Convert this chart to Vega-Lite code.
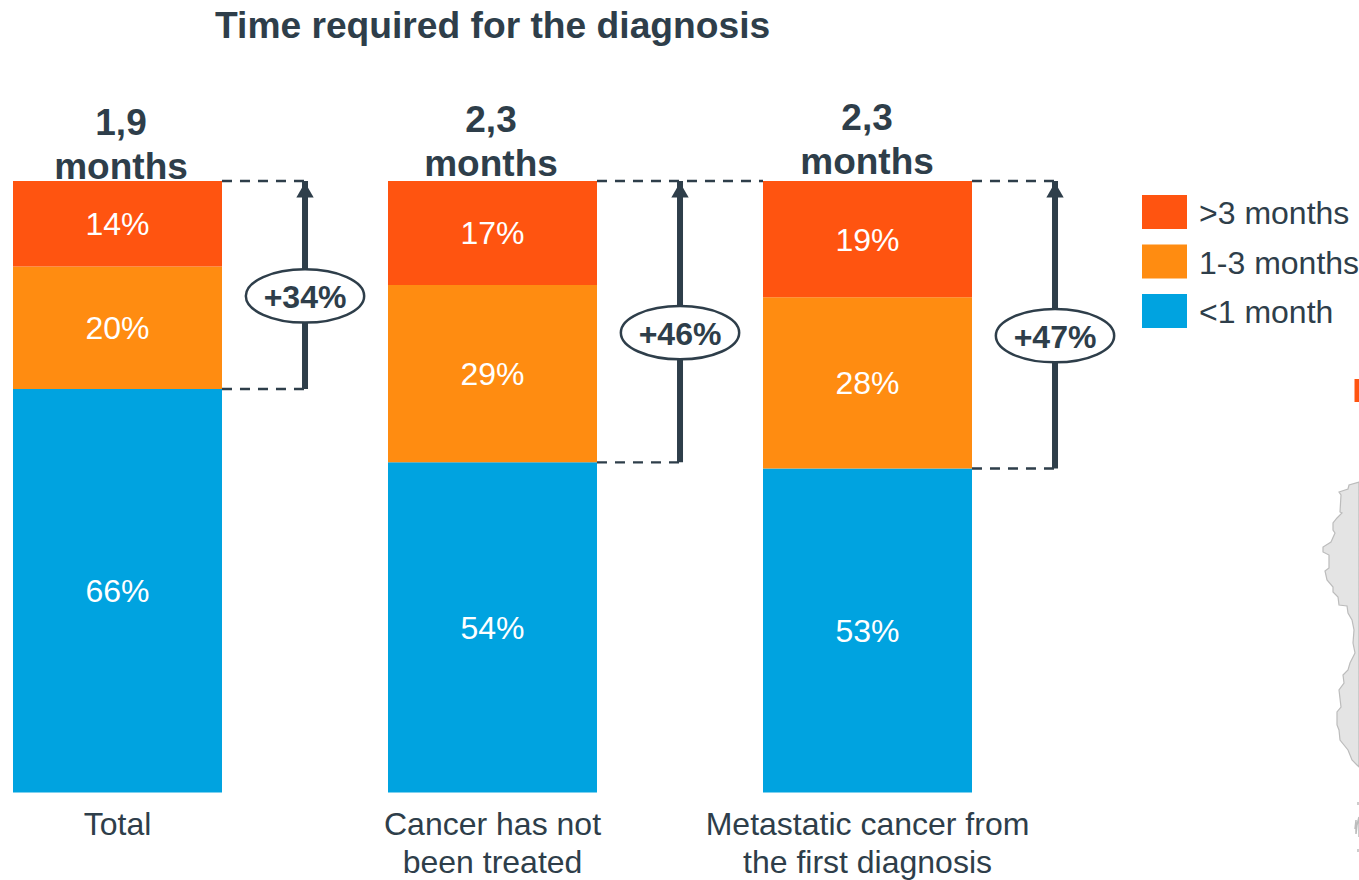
{
  "$schema": "https://vega.github.io/schema/vega-lite/v6.json",
  "width": 1359,
  "height": 880,
  "padding": 0,
  "autosize": {"type": "none"},
  "background": "white",
  "title": {
    "text": "Time required for the diagnosis",
    "anchor": "start",
    "frame": "group",
    "dx": 215,
    "offset": -46,
    "font": "Liberation Sans",
    "fontSize": 37.2,
    "fontWeight": "bold",
    "color": "#2e3e4a"
  },
  "config": {"view": {"stroke": null}, "font": "Liberation Sans"},
  "datasets": {
    "segments": [
      {"cat": "Total", "duration": "<1 month", "rank": 1, "share": 66},
      {"cat": "Total", "duration": "1-3 months", "rank": 2, "share": 20},
      {"cat": "Total", "duration": ">3 months", "rank": 3, "share": 14},
      {"cat": "Cancer has not been treated", "duration": "<1 month", "rank": 1, "share": 54},
      {"cat": "Cancer has not been treated", "duration": "1-3 months", "rank": 2, "share": 29},
      {"cat": "Cancer has not been treated", "duration": ">3 months", "rank": 3, "share": 17},
      {"cat": "Metastatic cancer from the first diagnosis", "duration": "<1 month", "rank": 1, "share": 53},
      {"cat": "Metastatic cancer from the first diagnosis", "duration": "1-3 months", "rank": 2, "share": 28},
      {"cat": "Metastatic cancer from the first diagnosis", "duration": ">3 months", "rank": 3, "share": 19}
    ],
    "gaps": [
      {"cat": "Total", "avg": "1,9", "top": 100, "base": 66, "gain": "+34%"},
      {"cat": "Cancer has not been treated", "avg": "2,3", "top": 100, "base": 54, "gain": "+46%"},
      {"cat": "Metastatic cancer from the first diagnosis", "avg": "2,3", "top": 100, "base": 53, "gain": "+47%"}
    ],
    "coast": [
      {"e": 1359, "n": 482}, {"e": 1349, "n": 485}, {"e": 1348, "n": 489}, {"e": 1339, "n": 492},
      {"e": 1341, "n": 495}, {"e": 1340, "n": 512}, {"e": 1342, "n": 513}, {"e": 1337, "n": 518},
      {"e": 1333, "n": 523}, {"e": 1333, "n": 530}, {"e": 1335, "n": 533}, {"e": 1331, "n": 542},
      {"e": 1323, "n": 547}, {"e": 1323, "n": 552}, {"e": 1329, "n": 555}, {"e": 1329, "n": 568},
      {"e": 1325, "n": 571}, {"e": 1327, "n": 580}, {"e": 1333, "n": 587}, {"e": 1333, "n": 592},
      {"e": 1338, "n": 597}, {"e": 1339, "n": 605}, {"e": 1347, "n": 606}, {"e": 1348, "n": 613},
      {"e": 1352, "n": 620}, {"e": 1354, "n": 630}, {"e": 1353, "n": 643}, {"e": 1355, "n": 653},
      {"e": 1350, "n": 663}, {"e": 1348, "n": 670}, {"e": 1343, "n": 675}, {"e": 1344, "n": 683},
      {"e": 1339, "n": 690}, {"e": 1341, "n": 707}, {"e": 1337, "n": 712}, {"e": 1337, "n": 725},
      {"e": 1339, "n": 730}, {"e": 1340, "n": 740}, {"e": 1348, "n": 750}, {"e": 1352, "n": 760},
      {"e": 1357, "n": 765}, {"e": 1359, "n": 767}
    ],
    "islands": [
      {"isle": "a", "e": 1358, "n": 802}, {"isle": "a", "e": 1358, "n": 805},
      {"isle": "b", "e": 1359, "n": 817}, {"isle": "b", "e": 1356, "n": 820}, {"isle": "b", "e": 1357, "n": 825},
      {"isle": "b", "e": 1355, "n": 829}, {"isle": "b", "e": 1356, "n": 834}, {"isle": "b", "e": 1359, "n": 837},
      {"isle": "c", "e": 1358, "n": 849}, {"isle": "c", "e": 1358, "n": 852}
    ],
    "edgeMark": [{"w": 1354.5, "e": 1359, "n1": 379, "n2": 402}]
  },
  "layer": [
    {
      "description": "Map fragment on the right edge of the page",
      "layer": [
        {
          "data": {"name": "coast"},
          "mark": {"type": "area", "orient": "horizontal", "fill": "#e4e4e4", "stroke": "#bcbcbc", "strokeWidth": 1.2},
          "encoding": {
            "x": {"field": "e", "type": "quantitative", "scale": {"domain": [0, 1359], "range": [0, 1359], "nice": false, "zero": false}, "axis": null},
            "x2": {"datum": 1359},
            "y": {"field": "n", "type": "quantitative", "sort": null, "scale": {"domain": [0, 880], "range": [0, 880], "nice": false, "zero": false}, "axis": null}
          }
        },
        {
          "data": {"name": "islands"},
          "mark": {"type": "line", "stroke": "#bcbcbc", "strokeWidth": 1.5},
          "encoding": {
            "x": {"field": "e", "type": "quantitative"},
            "y": {"field": "n", "type": "quantitative", "sort": null},
            "detail": {"field": "isle"}
          }
        },
        {
          "data": {"name": "edgeMark"},
          "mark": {"type": "rect", "fill": "#ff5410"},
          "encoding": {
            "x": {"field": "w", "type": "quantitative"},
            "x2": {"field": "e"},
            "y": {"field": "n1", "type": "quantitative"},
            "y2": {"field": "n2"}
          }
        }
      ]
    },
    {
      "description": "Stacked bars with their percentage labels and the category axis",
      "data": {"name": "segments"},
      "transform": [
        {"stack": "share", "groupby": ["cat"], "sort": [{"field": "rank", "order": "ascending"}], "as": ["lo", "hi"]},
        {"calculate": "(datum.lo + datum.hi) / 2", "as": "mid"},
        {"calculate": "datum.share + '%'", "as": "pct"}
      ],
      "layer": [
        {
          "mark": {"type": "bar"},
          "encoding": {
            "x": {
              "field": "cat",
              "type": "nominal",
              "sort": ["Total", "Cancer has not been treated", "Metastatic cancer from the first diagnosis"],
              "scale": {"range": [13, 972], "paddingInner": 0.44267, "paddingOuter": 0},
              "axis": {
                "orient": "bottom",
                "title": null,
                "offset": -88,
                "domain": false,
                "ticks": false,
                "labelAngle": 0,
                "labelFont": "Liberation Sans",
                "labelFontSize": 32,
                "labelColor": "#2e3e4a",
                "labelLineHeight": 38,
                "labelPadding": 17,
                "labelLimit": 500,
                "labelOverlap": false,
                "labelBound": false,
                "labelFlush": false,
                "labelExpr": "datum.value == 'Cancer has not been treated' ? ['Cancer has not', 'been treated'] : datum.value == 'Metastatic cancer from the first diagnosis' ? ['Metastatic cancer from', 'the first diagnosis'] : datum.value"
              }
            },
            "y": {
              "field": "lo",
              "type": "quantitative",
              "scale": {"domain": [0, 100], "range": [792.6, 181], "nice": false},
              "axis": null
            },
            "y2": {"field": "hi"},
            "color": {
              "field": "duration",
              "type": "nominal",
              "scale": {
                "domain": [">3 months", "1-3 months", "<1 month"],
                "range": ["#ff5410", "#ff8c11", "#00a3e0"]
              },
              "legend": {
                "title": null,
                "orient": "none",
                "legendX": 1142,
                "legendY": 189.4,
                "padding": 0,
                "symbolType": "M-1,-0.756H1V0.756H-1Z",
                "symbolSize": 2025,
                "symbolStrokeWidth": 0,
                "symbolOpacity": 1,
                "rowPadding": 8.5,
                "labelOffset": 12,
                "labelFont": "Liberation Sans",
                "labelFontSize": 32,
                "labelColor": "#2e3e4a",
                "labelLimit": 300,
                "encode": {"labels": {"update": {"dy": {"value": 2.5}}}}
              }
            }
          }
        },
        {
          "mark": {"type": "text", "font": "Liberation Sans", "fontSize": 32, "color": "white", "baseline": "middle", "dy": 1.5},
          "encoding": {
            "x": {
              "field": "cat",
              "type": "nominal",
              "sort": ["Total", "Cancer has not been treated", "Metastatic cancer from the first diagnosis"]
            },
            "y": {"field": "mid", "type": "quantitative"},
            "text": {"field": "pct", "type": "nominal"}
          }
        }
      ]
    },
    {
      "description": "Brackets, arrows and gain callouts beside each bar, placed in units of one bar spacing",
      "data": {"name": "gaps"},
      "transform": [
        {"calculate": "indexof(['Total', 'Cancer has not been treated', 'Metastatic cancer from the first diagnosis'], datum.cat)", "as": "slot"},
        {"calculate": "datum.slot + 0.5573", "as": "edge"},
        {"calculate": "datum.slot + 0.7787", "as": "arrowAt"},
        {"calculate": "datum.slot == 1 ? datum.slot + 1 : datum.arrowAt", "as": "topEnd"},
        {"calculate": "(datum.top + datum.base) / 2 - 1.8", "as": "pill"},
        {"calculate": "datum.slot + 0.2787 + [0.0093, -0.004, -0.0013][datum.slot]", "as": "headAt"},
        {"calculate": "[109.33, 109.84, 110.14][datum.slot]", "as": "headY"},
        {"calculate": "datum.avg + '|months'", "as": "headline"}
      ],
      "layer": [
        {
          "mark": {"type": "rule", "stroke": "#2e3e4a", "strokeWidth": 2.4, "strokeDash": [10, 8]},
          "encoding": {
            "x": {
              "field": "edge",
              "type": "quantitative",
              "scale": {"domain": [-0.034667, 3.589333], "range": [0, 1359], "nice": false, "zero": false},
              "axis": null
            },
            "x2": {"field": "topEnd"},
            "y": {
              "field": "top",
              "type": "quantitative",
              "scale": {"domain": [0, 100], "range": [792.6, 181], "nice": false},
              "axis": null
            }
          }
        },
        {
          "mark": {"type": "rule", "stroke": "#2e3e4a", "strokeWidth": 2.4, "strokeDash": [10, 8]},
          "encoding": {
            "x": {"field": "edge", "type": "quantitative"},
            "x2": {"field": "arrowAt"},
            "y": {"field": "base", "type": "quantitative"}
          }
        },
        {
          "mark": {"type": "rule", "stroke": "#2e3e4a", "strokeWidth": 6},
          "encoding": {
            "x": {"field": "arrowAt", "type": "quantitative"},
            "y": {"field": "base", "type": "quantitative"},
            "y2": {"field": "top"}
          }
        },
        {
          "mark": {"type": "point", "shape": "triangle-up", "filled": true, "fill": "#2e3e4a", "size": 300, "opacity": 1, "yOffset": 9},
          "encoding": {
            "x": {"field": "arrowAt", "type": "quantitative"},
            "y": {"field": "top", "type": "quantitative"}
          }
        },
        {
          "mark": {
            "type": "point",
            "shape": "M-1,0A1,0.45 0 1,1 1,0A1,0.45 0 1,1 -1,0Z",
            "filled": true,
            "fill": "white",
            "stroke": "#2e3e4a",
            "strokeWidth": 2.5,
            "size": 14000,
            "opacity": 1
          },
          "encoding": {
            "x": {"field": "arrowAt", "type": "quantitative"},
            "y": {"field": "pill", "type": "quantitative"}
          }
        },
        {
          "mark": {"type": "text", "font": "Liberation Sans", "fontSize": 32, "fontWeight": "bold", "color": "#2e3e4a", "baseline": "middle", "dy": 2},
          "encoding": {
            "x": {"field": "arrowAt", "type": "quantitative"},
            "y": {"field": "pill", "type": "quantitative"},
            "text": {"field": "gain", "type": "nominal"}
          }
        },
        {
          "mark": {"type": "text", "font": "Liberation Sans", "fontSize": 37, "fontWeight": "bold", "color": "#2e3e4a", "baseline": "middle", "lineBreak": "|", "lineHeight": 44},
          "encoding": {
            "x": {"field": "headAt", "type": "quantitative"},
            "y": {"field": "headY", "type": "quantitative"},
            "text": {"field": "headline", "type": "nominal"}
          }
        }
      ]
    }
  ],
  "resolve": {"scale": {"x": "independent", "y": "independent", "color": "independent"}}
}
